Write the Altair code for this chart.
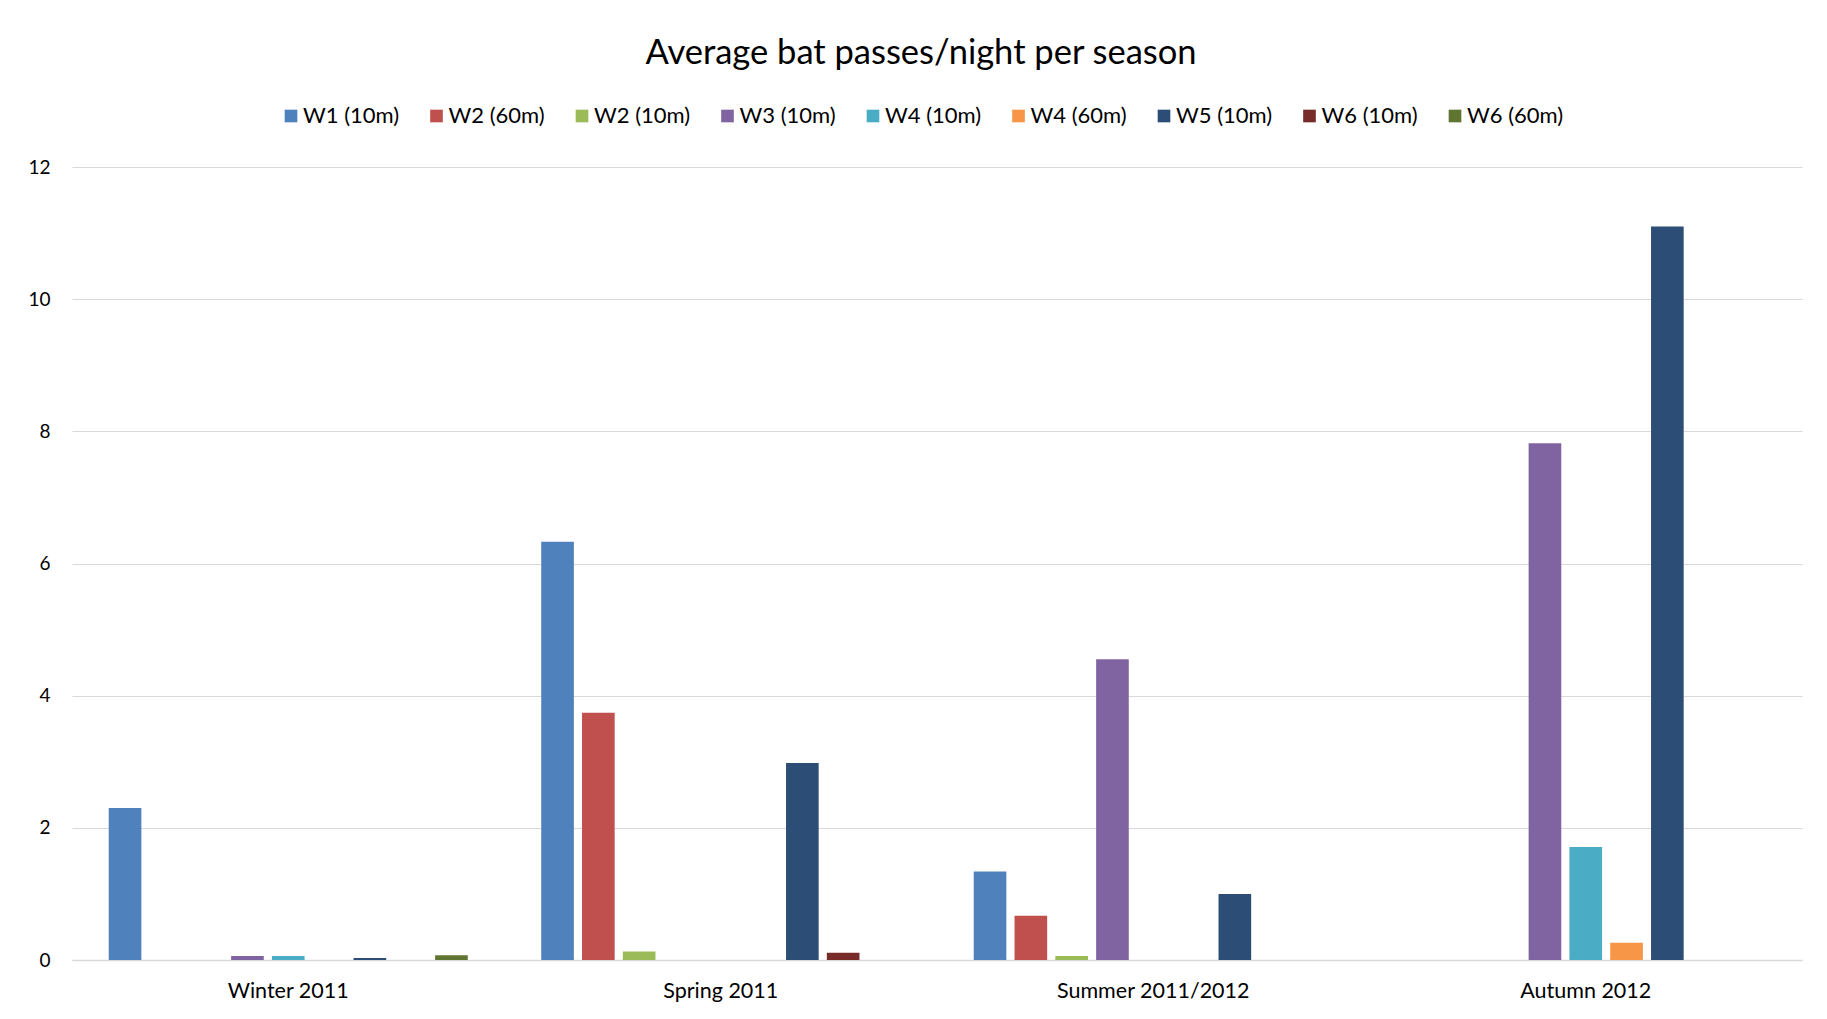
import altair as alt
import pandas as pd

seasons = ["Winter 2011", "Spring 2011", "Summer 2011/2012", "Autumn 2012"]
series = ["W1 (10m)", "W2 (60m)", "W2 (10m)", "W3 (10m)", "W4 (10m)",
          "W4 (60m)", "W5 (10m)", "W6 (10m)", "W6 (60m)"]
colors = ["#4F81BD", "#C0504D", "#9BBB59", "#8064A2", "#4BACC6",
          "#F79646", "#2C4D75", "#772C2A", "#5F7530"]

w1_10 = [2.30, 6.33, 1.34, 0.0]
w2_60 = [0.0, 3.74, 0.67, 0.0]
w2_10 = [0.0, 0.13, 0.06, 0.0]
w3_10 = [0.06, 0.0, 4.55, 7.82]
w4_10 = [0.06, 0.0, 0.0, 1.71]
w4_60 = [0.0, 0.0, 0.0, 0.26]
w5_10 = [0.03, 2.98, 1.00, 11.10]
w6_10 = [0.0, 0.11, 0.0, 0.0]
w6_60 = [0.07, 0.0, 0.0, 0.0]

values = [w1_10, w2_60, w2_10, w3_10, w4_10, w4_60, w5_10, w6_10, w6_60]

rows = []
for s, vals in zip(series, values):
    for season, v in zip(seasons, vals):
        rows.append({"season": season, "series": s, "value": v})
df = pd.DataFrame(rows)

FONT = "Lato"

chart = alt.Chart(df).mark_bar().encode(
    x=alt.X("season:N", sort=seasons, title=None,
            scale=alt.Scale(paddingInner=0, paddingOuter=0),
            axis=alt.Axis(labelAngle=0, labelFontSize=21.5, labelPadding=20,
                          labelLimit=0, ticks=False, domain=True,
                          domainColor="#D9D9D9", domainWidth=1.5,
                          labelColor="#000000")),
    xOffset=alt.XOffset("series:N", sort=series,
                        scale=alt.Scale(domain=series, paddingInner=0.2, paddingOuter=0.9)),
    y=alt.Y("value:Q", title=None,
            scale=alt.Scale(domain=[0, 12]),
            axis=alt.Axis(values=[0, 2, 4, 6, 8, 10, 12], labelFontSize=19,
                          labelPadding=22, ticks=False, domain=False,
                          gridColor="#D9D9D9", gridWidth=1, labelColor="#000000")),
    color=alt.Color("series:N", sort=series,
                    scale=alt.Scale(domain=series, range=colors),
                    legend=alt.Legend(title=None, orient="none", legendX=208, legendY=-62,
                                      direction="horizontal",
                                      columns=9, symbolType="square", symbolSize=160,
                                      labelFontSize=22, labelOffset=1, columnPadding=25.5,
                                      symbolStrokeWidth=0, labelColor="#000000")),
).properties(
    width=1730,
    height=793,
    title=alt.TitleParams("Average bat passes/night per season", fontSize=34.5,
                          fontWeight="normal", font=FONT, color="#000000",
                          anchor="middle", offset=34, dx=-16),
    padding={"left": 19, "top": 27, "right": 10, "bottom": 10},
).configure(font=FONT).configure_view(stroke=None).configure_axis(
    labelFont=FONT
).configure_legend(labelFont=FONT)

chart.save("out.html", embed_options={"renderer": "svg", "actions": False})
